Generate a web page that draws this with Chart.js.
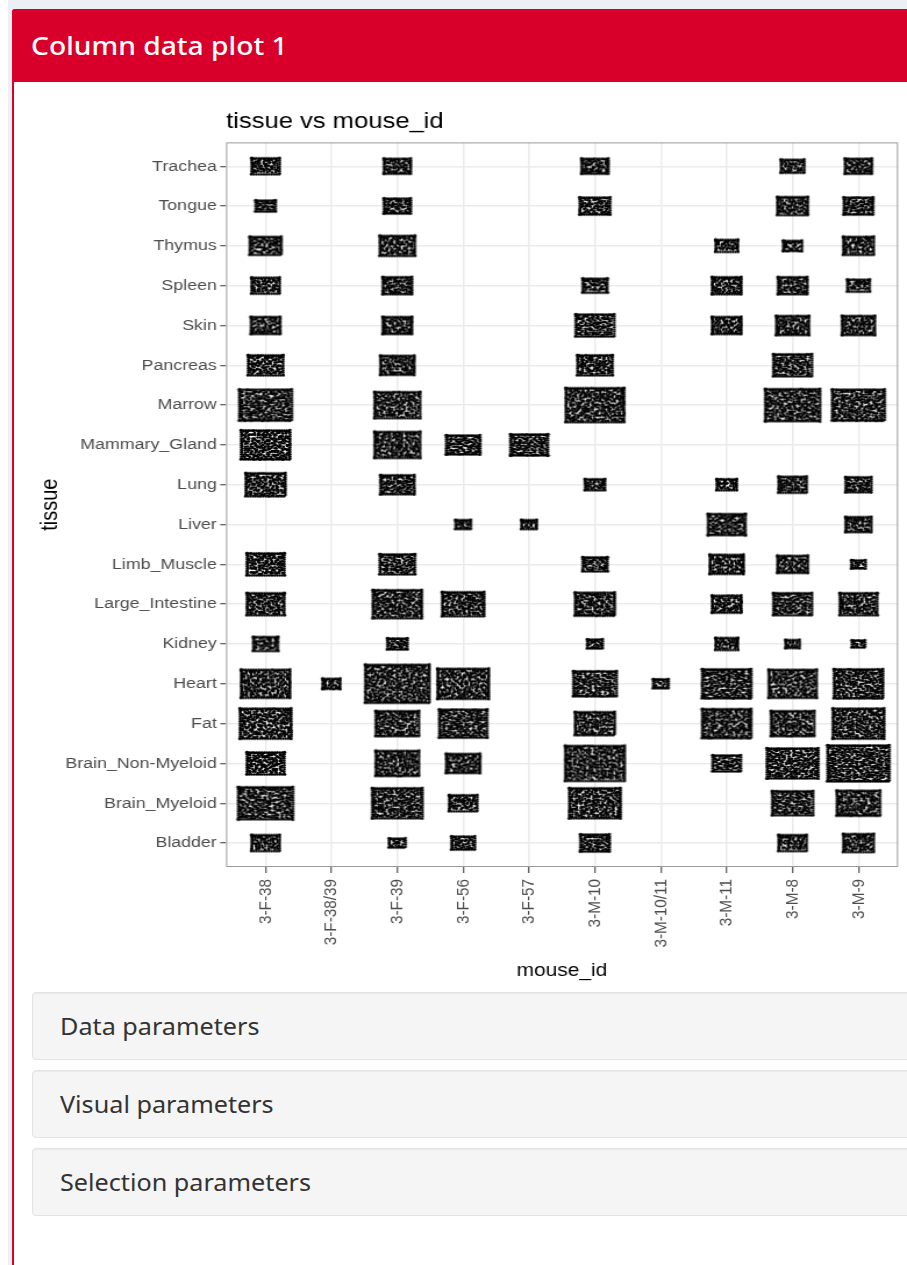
<!DOCTYPE html>
<html>
<head>
<meta charset="utf-8">
<title>Column data plot 1</title>
<script src="https://cdn.jsdelivr.net/npm/chart.js@4/dist/chart.umd.min.js"></script>
<style>
  html, body { margin: 0; padding: 0; background: #fff; }
  body { width: 907px; height: 1265px; position: relative; overflow: hidden; font-family: "Noto Sans", sans-serif; }
  #strip { position: absolute; left: 8px; top: 0; width: 899px; height: 9px; background: #ecf0f5; }
  #side { position: absolute; left: 8px; top: 0; width: 4px; height: 1265px; background: #ecf0f5; }
  #box { position: absolute; left: 12px; top: 9px; width: 900px; height: 1270px; border-left: 2px solid #d8002a; background: #fff; border-radius: 3px 0 0 0; }
  #head { position: absolute; left: 12px; top: 9px; width: 895px; height: 73px; background: #d8002a; border-radius: 3px 0 0 0; color: #fff; }
  #head span { position: absolute; left: 19px; top: 0; font-size: 26px; line-height: 72px; font-weight: 500; white-space: nowrap; transform: scaleX(1.085); transform-origin: left center; }
  #wrap { position: absolute; left: 0; top: 90px; width: 907px; height: 900px; }
  /* the reference is a screenshot stretched sideways, so is the canvas */
  #wrap canvas { filter: blur(0.6px); transform: scaleX(1.1628); transform-origin: left top; }
  .well { position: absolute; left: 32px; width: 890px; height: 66px; background: #f5f5f5; border: 1px solid #e3e3e3; border-radius: 4px; box-shadow: inset 0 1px 1px rgba(0,0,0,.05); color: #333; }
  .well span { position: absolute; left: 27px; top: 0; font-size: 24px; line-height: 66px; white-space: nowrap; transform: scaleX(1.05); transform-origin: left center; }
</style>
</head>
<body>
<div id="strip"></div>
<div id="side"></div>
<div id="box"></div>
<div id="head"><span>Column data plot 1</span></div>
<div id="wrap"><canvas id="plot" width="780" height="900"></canvas></div>
<div class="well" style="top:992px"><span>Data parameters</span></div>
<div class="well" style="top:1070px"><span>Visual parameters</span></div>
<div class="well" style="top:1148px"><span>Selection parameters</span></div>

<script>
// categories, bottom to top on the y axis
var tissues = ['Bladder', 'Brain_Myeloid', 'Brain_Non-Myeloid', 'Fat', 'Heart', 'Kidney', 'Large_Intestine',
    'Limb_Muscle', 'Liver', 'Lung', 'Mammary_Gland', 'Marrow', 'Pancreas', 'Skin', 'Spleen', 'Thymus', 'Tongue', 'Trachea'];
var mice = ['3-F-38', '3-F-38/39', '3-F-39', '3-F-56', '3-F-57', '3-M-10', '3-M-10/11', '3-M-11', '3-M-8', '3-M-9'];

// side of each jitter square, as a fraction of one category step, one value per mouse (0 = no cells)
var bladder    = [.48, 0,   .30,  .41, 0,   .50, 0,   0,   .48, .52];
var brainMye   = [.88, 0,   .82,  .47, 0,   .83, 0,   0,   .67, .71];
var brainNon   = [.62, 0,   .70,  .56, 0,   .95, 0,   .48, .83, .98];
var fat        = [.83, 0,   .70,  .77, 0,   .65, 0,   .80, .70, .83];
var heart      = [.79, .32, 1.03, .83, 0,   .70, .29, .80, .77, .80];
var kidney     = [.42, 0,   .35,  0,   0,   .29, 0,   .38, .27, .24];
var largeInt   = [.62, 0,   .79,  .68, 0,   .65, 0,   .50, .64, .62];
var limbMuscle = [.62, 0,   .59,  0,   0,   .42, 0,   .56, .51, .27];
var liver      = [0,   0,   0,    .29, .29, 0,   0,   .61, 0,   .45];
var lung       = [.65, 0,   .56,  0,   0,   .35, 0,   .35, .48, .45];
var mammary    = [.80, 0,   .74,  .56, .61, 0,   0,   0,   0,   0];
var marrow     = [.85, 0,   .74,  0,   0,   .94, 0,   0,   .89, .85];
var pancreas   = [.59, 0,   .56,  0,   0,   .59, 0,   0,   .64, 0];
var skin       = [.50, 0,   .50,  0,   0,   .64, 0,   .50, .55, .55];
var spleen     = [.47, 0,   .50,  0,   0,   .42, 0,   .50, .49, .38];
var thymus     = [.53, 0,   .59,  0,   0,   0,   0,   .38, .33, .52];
var tongue     = [.35, 0,   .46,  0,   0,   .51, 0,   0,   .52, .50];
var trachea    = [.47, 0,   .46,  0,   0,   .46, 0,   0,   .40, .46];

var sides = [bladder, brainMye, brainNon, fat, heart, kidney, largeInt, limbMuscle, liver, lung,
    mammary, marrow, pancreas, skin, spleen, thymus, tongue, trachea];

var points = [];
sides.forEach(function(row, t) {
    row.forEach(function(side, m) {
        if (side > 0) points.push({ x: m + 1, y: t + 1, side: side });
    });
});

// grain of one marker, only a texture so the same cell always looks the same
function speck(a, b) {
    var h = Math.sin(a * 12.9898 + b * 78.233) * 43758.5453;
    return h - Math.floor(h);
}

function dot(g, x, y) {
    g.beginPath();
    g.arc(x, y, 1.25, 0, 7);
    g.fill();
}

function stipple(w, h, seed) {
    var pad = 2;
    var c = document.createElement('canvas');
    c.width = w + pad * 2;
    c.height = h + pad * 2;
    var g = c.getContext('2d');
    g.fillStyle = '#fff';
    g.fillRect(pad, pad, w, h);
    g.fillStyle = '#000';
    // dots along the edge keep the block square
    for (var x = 0; x <= w; x += 2.2) {
        dot(g, pad + x, pad + 0.5);
        dot(g, pad + x, pad + h - 0.5);
    }
    for (var y = 0; y <= h; y += 2.2) {
        dot(g, pad + 0.5, pad + y);
        dot(g, pad + w - 0.5, pad + y);
    }
    // shaken grid, so the gaps stay small and even like in the quasi-random plot
    for (var i = 1.5; i < w - 1; i += 2.1) {
        for (var j = 1.5; j < h - 1; j += 2.1) {
            var dx = (speck(i + seed, j) - 0.5) * 1.9;
            var dy = (speck(j + seed, i + 0.7) - 0.5) * 1.9;
            dot(g, pad + i + dx, pad + j + dy);
        }
    }
    return c;
}

var markers = {};
function markerStyle(ctx) {
    if (!ctx.raw) return 'rect';
    var sx = ctx.chart.scales.x, sy = ctx.chart.scales.y;
    var w = Math.round(ctx.raw.side * Math.abs(sx.getPixelForValue(2) - sx.getPixelForValue(1))) - 2;
    var h = Math.round(ctx.raw.side * Math.abs(sy.getPixelForValue(2) - sy.getPixelForValue(1))) - 2;
    if (!(w > 0 && h > 0)) return 'rect'; // scales not laid out yet
    var key = ctx.dataIndex + ':' + w + 'x' + h;
    if (!markers[key]) markers[key] = stipple(w, h, ctx.dataIndex * 7 + 1);
    return markers[key];
}

var panelBorder = {
    id: 'panelBorder',
    afterDatasetsDraw: function(chart) {
        var a = chart.chartArea;
        var g = chart.ctx;
        g.save();
        g.strokeStyle = '#9a9a9a';
        g.lineWidth = 1;
        g.strokeRect(a.left + 0.5, a.top + 0.5, a.right - a.left - 1, a.bottom - a.top - 1);
        g.restore();
    }
};

var fontName = '"Liberation Sans", Arial, sans-serif';
var tickFont = { family: fontName, size: 15.3 };

new Chart(document.getElementById('plot'), {
    type: 'scatter',
    data: {
        datasets: [{
            data: points,
            pointStyle: markerStyle,
            pointRadius: 1,
            pointBackgroundColor: '#000',
            clip: false
        }]
    },
    options: {
        responsive: false,
        animation: false,
        events: [],
        layout: { padding: { left: 0, right: 7.7, top: 0, bottom: 0 } },
        plugins: {
            legend: { display: false },
            tooltip: { enabled: false },
            title: {
                display: true,
                text: 'tissue vs mouse_id',
                align: 'start',
                fullSize: false,
                color: '#000',
                font: { family: fontName, size: 22, weight: 'normal' },
                padding: { top: 19, bottom: 7 }
            }
        },
        scales: {
            x: {
                type: 'linear',
                min: 0.4,
                max: 10.6,
                afterBuildTicks: function(axis) {
                    axis.ticks = mice.map(function(m, i) { return { value: i + 1 }; });
                },
                afterFit: function(axis) { axis.height = 123; },
                ticks: {
                    autoSkip: false,
                    minRotation: 90,
                    maxRotation: 90,
                    color: '#4d4d4d',
                    font: tickFont,
                    padding: 6,
                    callback: function(v) { return mice[v - 1]; }
                },
                grid: { color: '#ebebeb', lineWidth: 1.5, tickColor: '#333', tickLength: 6, tickWidth: 1 },
                border: { display: false },
                title: { display: true, text: 'mouse_id', color: '#000', font: { family: fontName, size: 18 }, padding: { top: 0, bottom: 8 } }
            },
            y: {
                type: 'linear',
                min: 0.4,
                max: 18.6,
                afterBuildTicks: function(axis) {
                    axis.ticks = tissues.map(function(t, i) { return { value: i + 1 }; });
                },
                afterFit: function(axis) { axis.width = 194.4; },
                ticks: {
                    autoSkip: false,
                    color: '#4d4d4d',
                    font: tickFont,
                    padding: 3,
                    callback: function(v) { return tissues[v - 1]; }
                },
                grid: { color: '#ebebeb', lineWidth: 1.5, tickColor: '#333', tickLength: 5, tickWidth: 1 },
                border: { display: false },
                title: { display: true, text: 'tissue', color: '#000', font: { family: fontName, size: 20 }, padding: { top: 31, bottom: 0 } }
            }
        }
    },
    plugins: [panelBorder]
});
</script>
</body>
</html>
